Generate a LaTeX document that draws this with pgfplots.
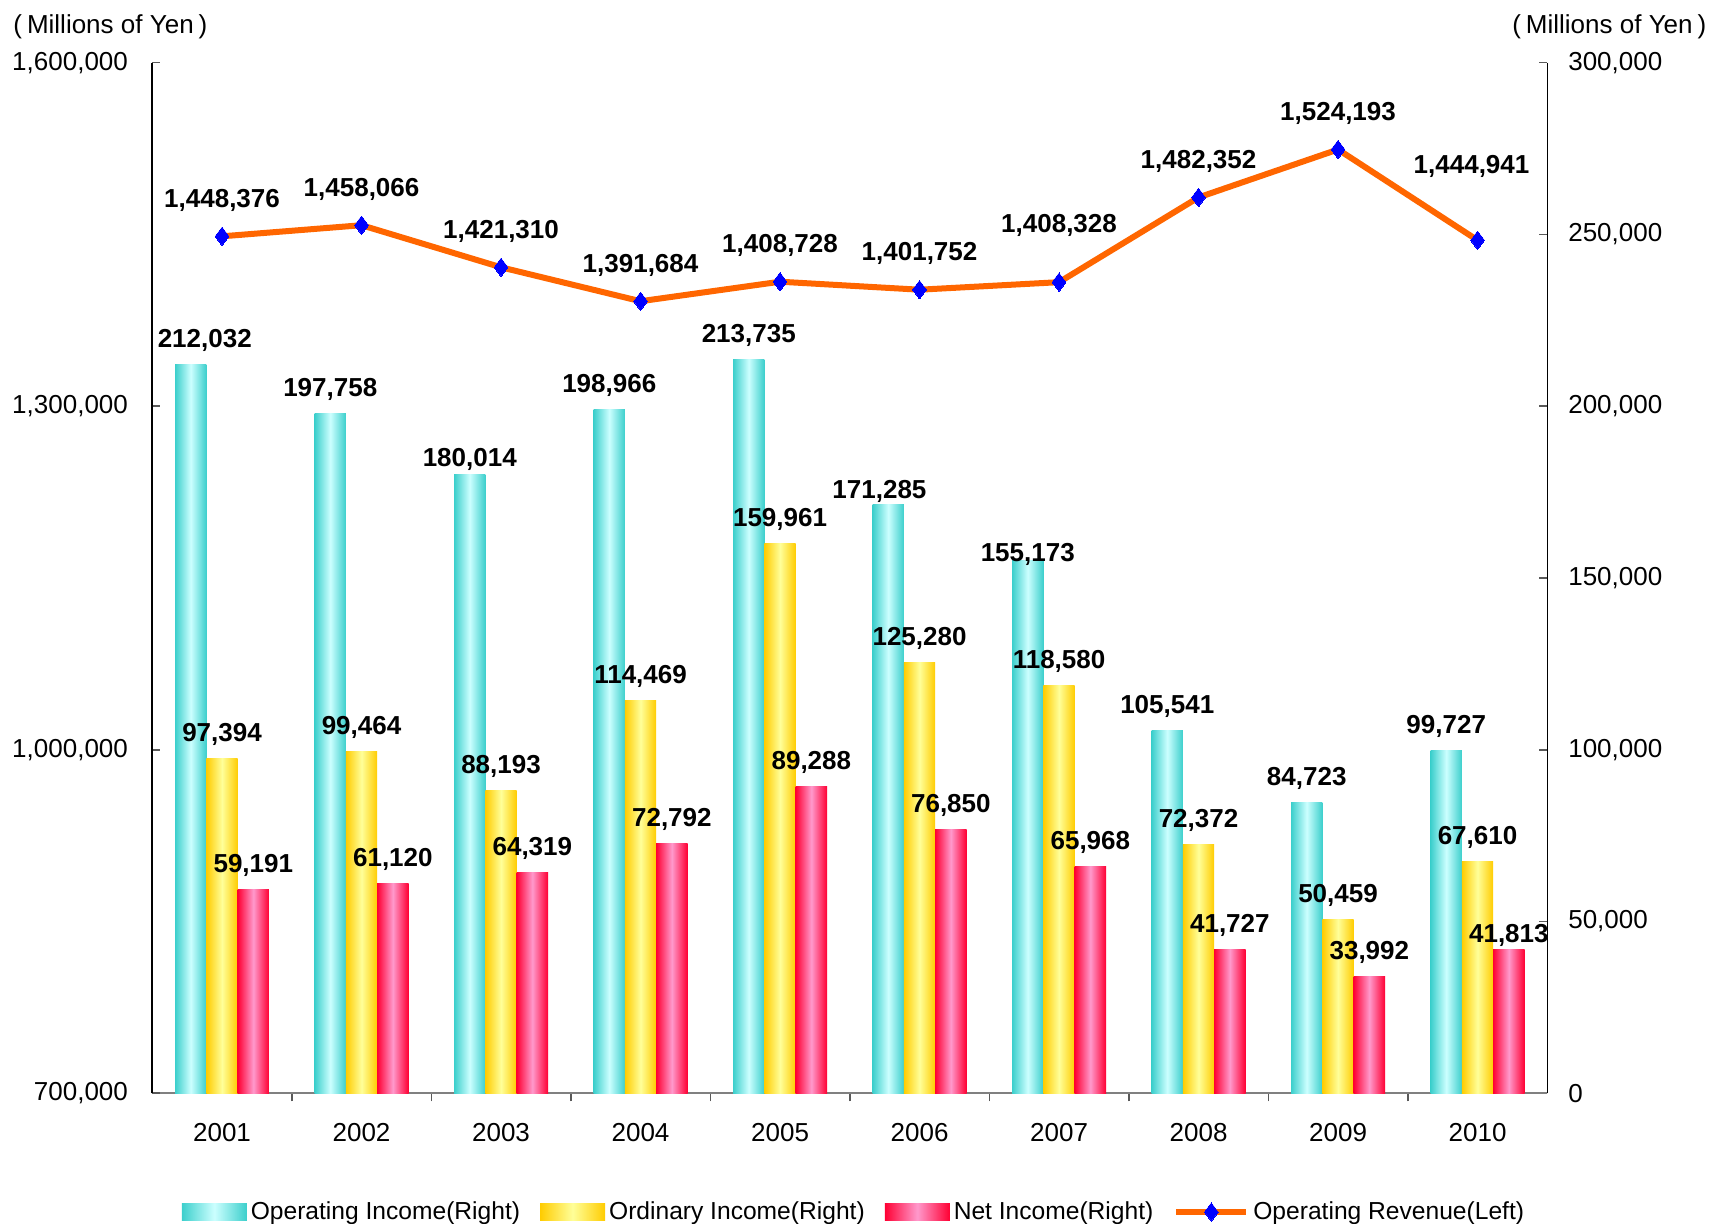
\documentclass[border=0pt]{standalone}
\usepackage{pgfplots}
\usepackage{pgfplotstable}
\pgfplotsset{compat=1.18}
\usepackage{fontspec}
\setmainfont{Liberation Sans}
\definecolor{opedge}{HTML}{3CCFCC}
\definecolor{opmid}{HTML}{CCFFFF}
\definecolor{ordedge}{HTML}{FFCC00}
\definecolor{ordmid}{HTML}{FFFF99}
\definecolor{netedge}{HTML}{FF0033}
\definecolor{netmid}{HTML}{FF99CC}
\definecolor{revline}{HTML}{FF6600}
\definecolor{revmark}{HTML}{0000FF}

\pgfplotstableread{
x opinc ordinc netinc rev
0 212032 97394 59191 1448376
1 197758 99464 61120 1458066
2 180014 88193 64319 1421310
3 198966 114469 72792 1391684
4 213735 159961 89288 1408728
5 171285 125280 76850 1401752
6 155173 118580 65968 1408328
7 105541 72372 41727 1482352
8 84723 50459 33992 1524193
9 99727 67610 41813 1444941
}\datatable

\pgfplotsset{
  common/.style={
    scale only axis, width=697.5pt, height=515.3pt,
    at={(0pt,0pt)}, anchor=south west,
    xmin=-0.5, xmax=9.5,
    tick align=inside,
    major tick length=4pt,
    /pgf/number format/fixed,
    /pgf/number format/1000 sep={,},
    /pgf/number format/assume math mode=true,
    scaled y ticks=false,
    tick label style={font=\fontsize{13}{15}\selectfont},
    tick style={color=gray!70!black, line width=0.8pt},
    axis line style={-},
  },
  opbar/.style={draw=none, left color=opedge, right color=opedge, middle color=opmid, bar shift=-15.65pt},
  ordbar/.style={draw=none, left color=ordedge, right color=ordedge, middle color=ordmid, bar shift=0pt},
  netbar/.style={draw=none, left color=netedge, right color=netedge, middle color=netmid, bar shift=15.65pt},
  barlegend/.style={legend image code/.code={\path[##1] (0pt,-4.25pt) rectangle (32.5pt,4.25pt);}},
  linelegend/.style={legend image code/.code={\draw[mark repeat=2, mark phase=2, ##1] plot coordinates {(0pt,0pt) (17.5pt,0pt) (35pt,0pt)};}},
}

\begin{document}
\begin{tikzpicture}
\useasboundingbox (-76.15pt,-65.35pt) rectangle (780.35pt,546.65pt);
% bars on right axis
\begin{axis}[common,
  ybar, bar width=15.65pt,
  axis x line*=bottom, axis y line*=right,
  x axis line style={gray, line width=1.2pt},
  y axis line style={black, line width=0.8pt},
  ymin=0, ymax=300000, ytick={0,50000,...,300000},
  xtick={0.5,1.5,...,8.5}, xticklabels={},
  extra x ticks={0,1,...,9},
  extra x tick labels={2001,2002,2003,2004,2005,2006,2007,2008,2009,2010},
  extra x tick style={major tick length=0pt},
  xticklabel style={inner sep=0pt, yshift=-14.85pt},
  yticklabel style={inner sep=0pt, xshift=10.3pt},
  nodes near coords,
  every node near coord/.append style={anchor=base, yshift=8.5pt, text=black, font=\fontsize{13}{15}\selectfont\bfseries},
]
\pgfplotsinvokeforeach{0,...,9}{
\addplot[opbar, x filter/.expression={x==#1 ? x : nan},
  coordinate style/.condition={x==0}{xshift=7pt},
  coordinate style/.condition={x==2}{yshift=-4.4pt},
  coordinate style/.condition={x==5}{yshift=-5.5pt, xshift=-4.4pt},
  coordinate style/.condition={x==6}{yshift=-9.3pt}] table[x=x,y=opinc]{\datatable};
\addplot[ordbar, x filter/.expression={x==#1 ? x : nan}] table[x=x,y=ordinc]{\datatable};
\addplot[netbar, x filter/.expression={x==#1 ? x : nan},
  coordinate style/.condition={x==9}{yshift=-5pt}] table[x=x,y=netinc]{\datatable};
}
\end{axis}
% line on left axis
\begin{axis}[common,
  axis y line*=left, axis x line=none,
  y axis line style={black, line width=0.8pt},
  ymin=700000, ymax=1600000, ytick={700000,1000000,1300000,1600000},
  yticklabel style={inner sep=0pt, xshift=-12pt},
  legend columns=4,
  legend style={at={(0.5037,-0.1152)}, anchor=center, draw=none, fill=none,
    font=\fontsize{12.3}{14}\selectfont,
    /tikz/every even column/.append style={column sep=8pt}},
]
\addlegendimage{barlegend, draw=none, left color=opedge, right color=opedge, middle color=opmid}
\addlegendentry{Operating Income(Right)}
\addlegendimage{barlegend, draw=none, left color=ordedge, right color=ordedge, middle color=ordmid}
\addlegendentry{Ordinary Income(Right)}
\addlegendimage{barlegend, draw=none, left color=netedge, right color=netedge, middle color=netmid}
\addlegendentry{Net Income(Right)}
\addplot[revline, line width=3pt, mark=diamond*, mark size=4.6pt,
  mark options={fill=revmark, draw=revmark, line width=0pt},
  linelegend,
  nodes near coords,
  every node near coord/.append style={anchor=base, yshift=14.5pt, text=black, font=\fontsize{13}{15}\selectfont\bfseries},
  coordinate style/.condition={x==6}{yshift=10.4pt},
  coordinate style/.condition={x==9}{yshift=19pt, xshift=-3pt},
] table[x=x,y=rev]{\datatable};
\addlegendentry{Operating Revenue(Left)}
\end{axis}
\node[anchor=west, inner sep=0pt, font=\fontsize{13}{15}\selectfont] at (-69.65pt,533.15pt) {(\kern2.5pt Millions of Yen\kern2.5pt)};
\node[anchor=east, inner sep=0pt, font=\fontsize{13}{15}\selectfont] at (777.2pt,533.15pt) {(\kern2.5pt Millions of Yen\kern2.5pt)};
\end{tikzpicture}
\end{document}
